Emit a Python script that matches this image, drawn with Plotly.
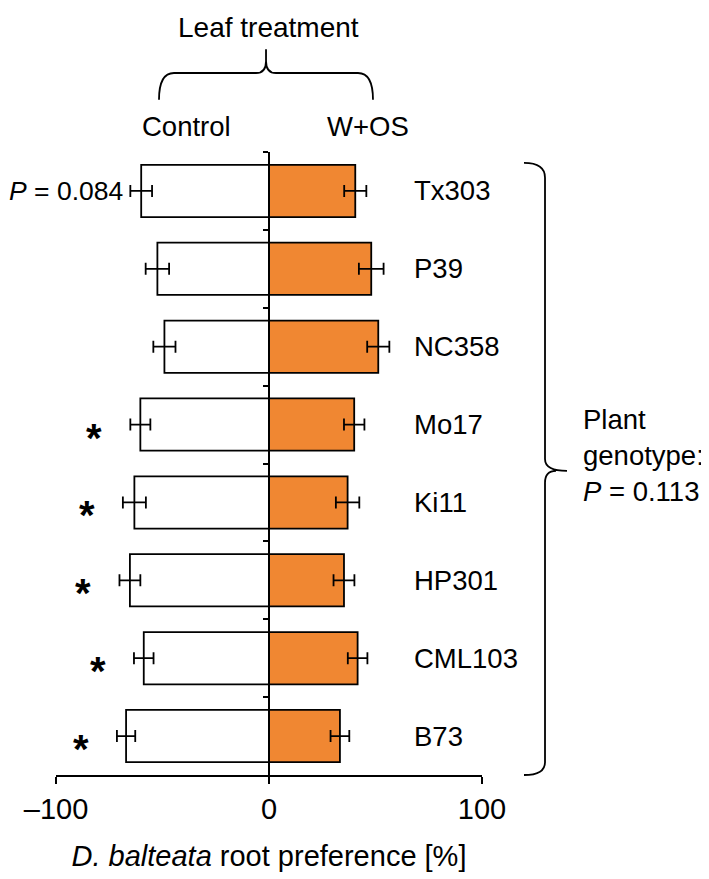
"""根系偏好条形图：对照 vs W+OS 叶片处理，8 个玉米基因型。"""

import plotly.graph_objects as go

# 数据
genotypes = ["Tx303", "P39", "NC358", "Mo17", "Ki11", "HP301", "CML103", "B73"]
control = [-60, -52.4, -49.1, -60.4, -63.2, -65.3, -58.8, -67.1]
control_err = [5.1, 5.5, 5.2, 4.7, 5.4, 4.9, 4.6, 4.3]
wos = [40.5, 48.0, 51.3, 40.0, 36.9, 35.2, 41.6, 33.3]
wos_err = [5.2, 5.8, 5.2, 4.8, 5.5, 4.9, 4.6, 4.4]
signif = ["<i>P</i> = 0.084", "", "", "*", "*", "*", "*", "*"]
x_ticks = [-100, 0, 100]
x_ticktext = ["\u2013100", "0", "100"]

FONT = "Liberation Sans, Arial, Helvetica, sans-serif"
ORANGE = "#F08732"
# 页面 body 默认有 8px 外边距，图整体往左上收 8px
OFF = 8
W, H = 709 - OFF, 879 - OFF
# 绘图区像素边界（按原图坐标）
L, R, T, B = 56, 482, 152, 783


def px(x):
    return (x - L) / (R - L)


def py(y):
    return (B - y) / (B - T)


def path(points):
    """points: list of (cmd, [(x,y),...]) in pixels -> paper path string."""
    out = []
    for cmd, pts in points:
        out.append(cmd + " " + " ".join(f"{px(x):.4f},{py(y):.4f}" for x, y in pts))
    return " ".join(out)


fig = go.Figure()
fig.add_trace(go.Bar(
    y=genotypes, x=control, orientation="h", width=0.67,
    marker=dict(color="white", line=dict(color="black", width=1.8)),
    error_x=dict(type="data", array=control_err, color="black", thickness=1.8, width=6),
    name="Control",
))
fig.add_trace(go.Bar(
    y=genotypes, x=wos, orientation="h", width=0.67,
    marker=dict(color=ORANGE, line=dict(color="black", width=1.8)),
    error_x=dict(type="data", array=wos_err, color="black", thickness=1.8, width=6),
    name="W+OS",
))

annotations = []
for g, c, ce, s in zip(genotypes, control, control_err, signif):
    annotations.append(dict(
        x=67, y=g, xref="x", yref="y", text=g, showarrow=False,
        xanchor="left", yanchor="middle", font=dict(size=27.5),
    ))
    if s == "*":
        annotations.append(dict(
            x=c - ce, y=g, xref="x", yref="y", text="<b>*</b>", showarrow=False,
            xanchor="right", yanchor="middle", xshift=-26, yshift=-13,
            font=dict(size=40),
        ))
    elif s:
        annotations.append(dict(
            x=c - ce, y=g, xref="x", yref="y", text=s, showarrow=False,
            xanchor="right", yanchor="middle", xshift=-5, font=dict(size=26.5),
        ))

# 顶部 / 右侧文字
annotations += [
    dict(x=px(268), y=py(26), text="Leaf treatment", font=dict(size=28), borderpad=0),
    dict(x=px(186), y=py(126), text="Control", font=dict(size=27.5)),
    dict(x=px(367.5), y=py(126), text="W+OS", font=dict(size=27.5)),
    dict(x=px(581), y=py(459), text="Plant<br>genotype:<br><i>P</i> = 0.113",
         xanchor="left", align="left", font=dict(size=27.5)),
]
for a in annotations[-4:]:
    a.update(xref="paper", yref="paper", showarrow=False, yanchor="middle")
    a.setdefault("xanchor", "center")

top_brace = path([
    ("M", [(159, 99)]), ("Q", [(159, 72), (174, 72)]),
    ("L", [(256, 72)]), ("Q", [(266, 72), (266, 60)]), ("L", [(266, 48)]),
    ("M", [(266, 60)]), ("Q", [(266, 72), (276, 72)]),
    ("L", [(358, 72)]), ("Q", [(373, 72), (373, 99)]),
])
right_brace = path([
    ("M", [(524, 163)]), ("Q", [(545, 163), (545, 178)]),
    ("L", [(545, 463)]), ("Q", [(545, 475), (567, 475)]),
    ("M", [(545, 487)]), ("Q", [(545, 475), (556, 475)]),
    ("M", [(545, 487)]),
    ("L", [(545, 770)]), ("Q", [(545, 783), (524, 783)]),
])
shapes = [
    dict(type="path", path=top_brace, xref="paper", yref="paper",
         line=dict(color="black", width=1.8)),
    dict(type="path", path=right_brace, xref="paper", yref="paper",
         line=dict(color="black", width=1.8)),
]

fig.update_layout(
    width=W, height=H,
    margin=dict(l=L - OFF, r=709 - R, t=T - OFF, b=879 - B, pad=0),
    barmode="overlay",
    showlegend=False,
    plot_bgcolor="white",
    paper_bgcolor="white",
    font=dict(family=FONT, color="black", size=27),
    annotations=annotations,
    shapes=shapes,
    xaxis=dict(
        range=[-100, 100], tickvals=x_ticks, ticktext=x_ticktext,
        ticks="outside", ticklen=7, tickwidth=1.8, tickcolor="black",
        showline=True, linewidth=1.8, linecolor="black",
        showgrid=False, zeroline=False, tickfont=dict(size=29),
        title=dict(text="<i>D. balteata</i> root preference [%]",
                   font=dict(size=29), standoff=22),
    ),
    yaxis=dict(
        categoryorder="array", categoryarray=genotypes,
        range=[7.5, -0.5], anchor="free", position=0.5,
        showline=True, linewidth=1.8, linecolor="black",
        ticks="outside", tickson="boundaries", ticklen=5, tickwidth=1.8,
        tickcolor="black", showticklabels=False,
        showgrid=False, zeroline=False,
    ),
)

fig.write_html("out.html")
